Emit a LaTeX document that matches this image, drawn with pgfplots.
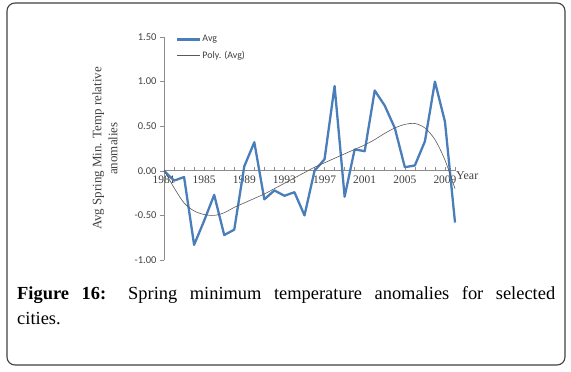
\documentclass[border=0pt]{standalone}
\usepackage{fontspec}
\setmainfont{Liberation Serif}
\newfontfamily\calibri{Carlito}
\usepackage{pgfplots}
\pgfplotsset{compat=1.18}
\definecolor{avgblue}{HTML}{4A7EBB}
\definecolor{axgray}{HTML}{8C8C8C}
\definecolor{txtgray}{HTML}{404040}
\begin{document}
\begin{tikzpicture}[x=1bp,y=1bp]
\path (0,0) rectangle (571,371);
\draw[line width=1.1bp, draw=black!75, rounded corners=8bp] (7,6) rectangle (565,368);
\begin{axis}[
  at={(164bp,111bp)}, anchor=south west,
  scale only axis, width=291bp, height=223bp,
  xmin=1981, xmax=2010, ymin=-1, ymax=1.5,
  axis x line=middle, axis y line=left,
  axis line style={-, axgray, line width=0.7bp},
  hide obscured x ticks=false, hide obscured y ticks=false,
  xtick={1981,1985,...,2009},
  minor xtick={1982,1983,1984,1986,1987,1988,1990,1991,1992,1994,1995,1996,1998,1999,2000,2002,2003,2004,2006,2007,2008,2010},
  xticklabels={1981,1985,1989,1993,1997,2001,2005,2009},
  ytick={-1,-0.5,0,0.5,1,1.5},
  yticklabels={-1.00,-0.50,0.00,0.50,1.00,1.50},
  xtick align=inside, ytick align=outside,
  major tick length=4bp, minor tick length=4bp,
  tick style={axgray, line width=0.6bp},
  x tick label style={font=\fontsize{11.5}{12}\selectfont, text=txtgray, yshift=-2bp},
  y tick label style={font=\calibri\fontsize{10.5}{12}\selectfont, text=txtgray},
  ylabel={Avg Spring Min. Temp relative\\anomalies},
  ylabel style={at={(axis description cs:-0.203,0.5)}, anchor=center, align=center, font=\fontsize{13}{16}\selectfont, text=txtgray},
  xlabel={Year},
  xlabel style={at={(axis description cs:1,0.4)}, anchor=west, yshift=-5bp, xshift=0bp, inner sep=1bp, font=\fontsize{12}{14}\selectfont, text=txtgray},
  legend style={at={(axis description cs:0.041,1.012)}, anchor=north west, draw=none, fill=none, font=\calibri\fontsize{10}{12}\selectfont, text=txtgray, row sep=6bp, inner sep=0pt, nodes={inner sep=1bp}},
  legend cell align=left,
  legend image code/.code={\draw[#1] (0bp,0bp) -- (23bp,0bp);},
  clip=false,
]
\addplot[avgblue, line width=2.3bp, line join=round] coordinates {
(1981,0.00) (1982,-0.11) (1983,-0.07) (1984,-0.83) (1985,-0.56) (1986,-0.27)
(1987,-0.72) (1988,-0.66) (1989,0.05) (1990,0.32) (1991,-0.32) (1992,-0.22)
(1993,-0.28) (1994,-0.24) (1995,-0.50) (1996,0.00) (1997,0.13) (1998,0.95)
(1999,-0.29) (2000,0.24) (2001,0.22) (2002,0.90) (2003,0.73) (2004,0.48)
(2005,0.04) (2006,0.06) (2007,0.33) (2008,1.00) (2009,0.55) (2010,-0.58)
};
\addlegendentry{Avg}
\addplot[black!65, line width=0.6bp, smooth] coordinates {
(1981,0.01) (1982,-0.19) (1983,-0.36) (1984,-0.45) (1985,-0.49) (1986,-0.50)
(1987,-0.47) (1988,-0.41) (1989,-0.36) (1990,-0.31) (1991,-0.26) (1992,-0.20)
(1993,-0.14) (1994,-0.08) (1995,-0.02) (1996,0.04) (1997,0.09) (1998,0.14)
(1999,0.19) (2000,0.24) (2001,0.29) (2002,0.35) (2003,0.42) (2004,0.48)
(2005,0.52) (2006,0.53) (2007,0.48) (2008,0.35) (2009,0.12) (2010,-0.20)
};
\addlegendentry{Poly. (Avg)}
\end{axis}
\node[anchor=north west, inner sep=0pt, text width=538bp, align=justify, font=\fontsize{18.5}{25.5}\selectfont] at (17,85)
{\textbf{Figure 16:} Spring minimum temperature anomalies for selected\linebreak cities.};
\end{tikzpicture}
\end{document}
